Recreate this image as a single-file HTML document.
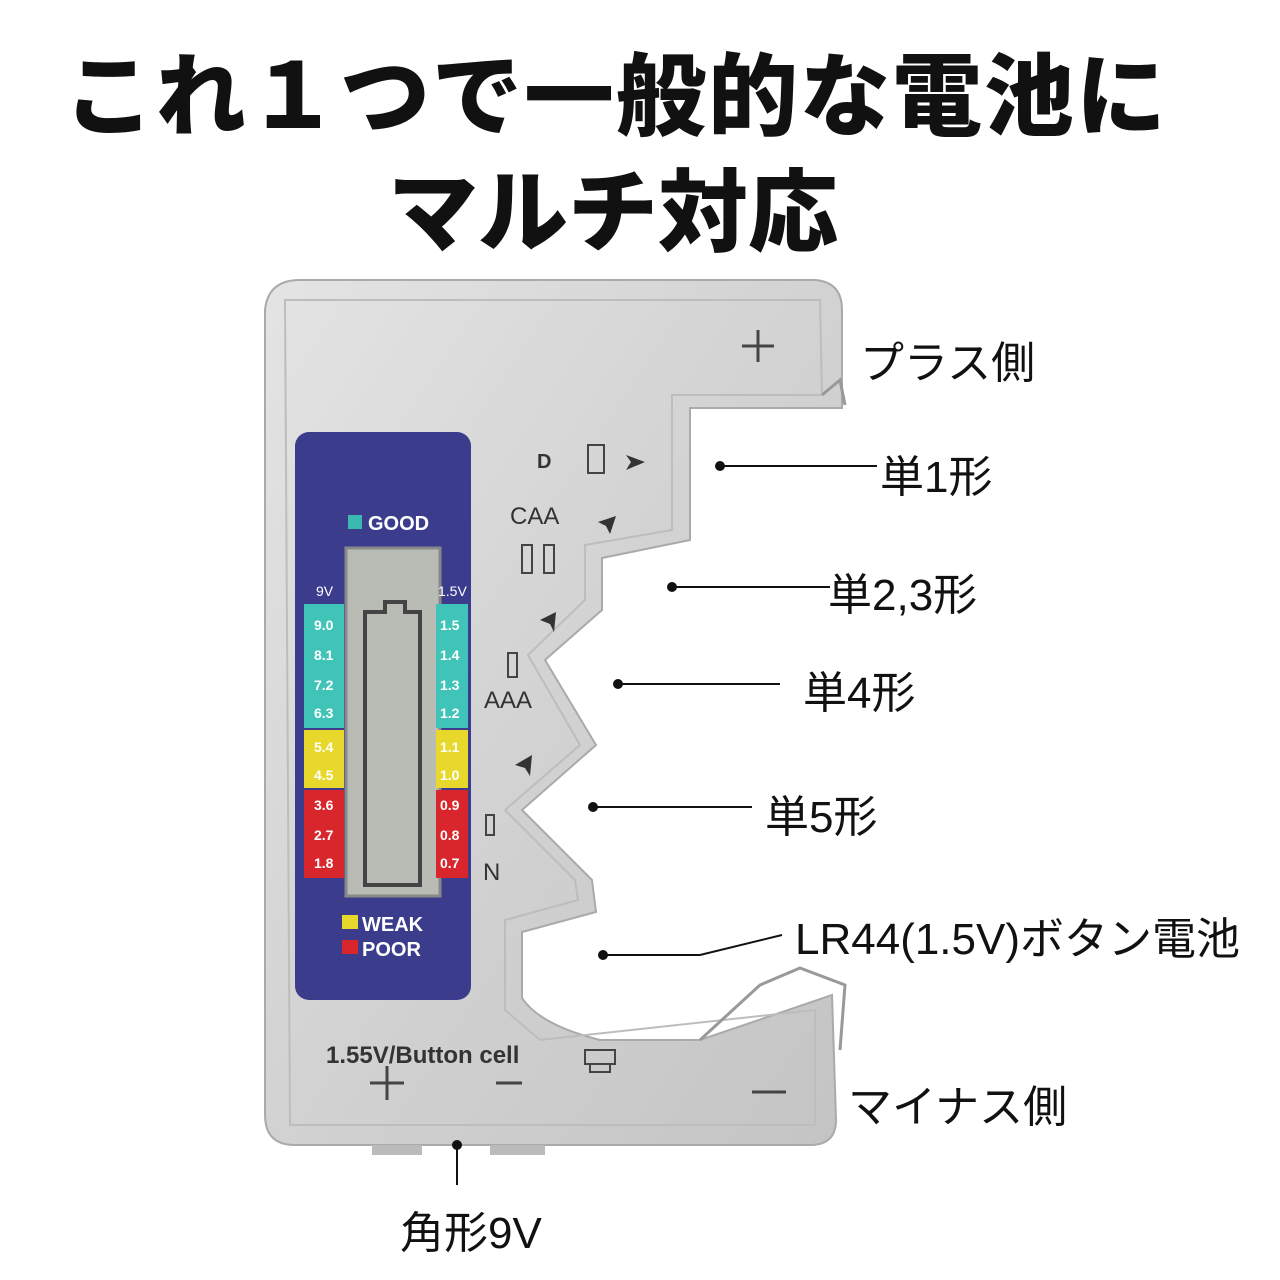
<!DOCTYPE html>
<html><head><meta charset="utf-8">
<style>
html,body{margin:0;padding:0;background:#fff;}
body{width:1280px;height:1280px;position:relative;overflow:hidden;font-family:"Liberation Sans","Noto Sans CJK JP",sans-serif;}
.t{position:absolute;white-space:nowrap;color:#111;}
.l{font-size:44px;}
</style></head><body>
<div class="t" style="left:64px;top:24px;font-size:90px;font-weight:900;letter-spacing:2px;">これ１つで一般的な電池に</div>
<div class="t" style="left:388px;top:140px;font-size:90px;font-weight:900;">マルチ対応</div>

<svg width="1280" height="1280" style="position:absolute;left:0;top:0">
<defs>
<linearGradient id="g" x1="0" y1="0" x2="1" y2="1">
<stop offset="0" stop-color="#e4e4e4"/><stop offset="0.5" stop-color="#d2d2d2"/><stop offset="1" stop-color="#c4c4c4"/>
</linearGradient>
</defs>
<path d="M300 280 L815 280 Q842 282 842 310 L842 408 L690 408 L690 540 L602 558 L602 610 L545 660 L596 745 L522 810 L592 880 L596 912 L522 932 L522 998 Q540 1025 600 1040 L700 1040 L832 995 L836 1120 Q836 1145 810 1145 L295 1145 Q265 1145 265 1115 L265 310 Q268 280 300 280 Z" fill="url(#g)" stroke="#aaa" stroke-width="2"/>
<path d="M285 300 L820 300 L822 395 L672 395 L672 530 L585 545 L585 600 L528 655 L580 745 L505 810 L575 880 L578 900 L505 920 L505 1010 L540 1040 L815 1010 L815 1125 L290 1125 Z" fill="none" stroke="#bdbdbd" stroke-width="2"/>
<path d="M700 1040 L760 985 L800 968 L845 985 L840 1050" fill="none" stroke="#999" stroke-width="3"/>
<path d="M822 395 L840 380 L845 405" fill="none" stroke="#999" stroke-width="3"/>
<rect x="295" y="432" width="176" height="568" rx="14" fill="#3b3c8c"/>
<rect x="346" y="548" width="94" height="348" fill="#b9bcb4" stroke="#888" stroke-width="3"/>
<path d="M365 612 L385 612 L385 602 L405 602 L405 612 L420 612 L420 885 L365 885 Z" fill="none" stroke="#444" stroke-width="4"/>
<rect x="348" y="515" width="14" height="14" fill="#3bb9b0"/>
<text x="368" y="530" font-size="20" font-weight="bold" fill="#fff">GOOD</text>
<text x="316" y="596" font-size="14" fill="#fff">9V</text>
<text x="438" y="596" font-size="14" fill="#fff">1.5V</text>
<g font-size="14" fill="#fff" font-weight="bold">
<rect x="304" y="604" width="40" height="124" fill="#40c4b8"/>
<rect x="436" y="604" width="32" height="124" fill="#40c4b8"/>
<rect x="304" y="730" width="40" height="58" fill="#e8d82c"/>
<rect x="436" y="730" width="32" height="58" fill="#e8d82c"/>
<rect x="304" y="790" width="40" height="88" fill="#d8262c"/>
<rect x="436" y="790" width="32" height="88" fill="#d8262c"/>
<text x="314" y="630">9.0</text><text x="314" y="660">8.1</text><text x="314" y="690">7.2</text><text x="314" y="718">6.3</text>
<text x="314" y="752">5.4</text><text x="314" y="780">4.5</text>
<text x="314" y="810">3.6</text><text x="314" y="840">2.7</text><text x="314" y="868">1.8</text>
<text x="440" y="630">1.5</text><text x="440" y="660">1.4</text><text x="440" y="690">1.3</text><text x="440" y="718">1.2</text>
<text x="440" y="752">1.1</text><text x="440" y="780">1.0</text>
<text x="440" y="810">0.9</text><text x="440" y="840">0.8</text><text x="440" y="868">0.7</text>
</g>
<rect x="342" y="915" width="16" height="14" fill="#e8d82c"/>
<text x="362" y="931" font-size="20" font-weight="bold" fill="#fff">WEAK</text>
<rect x="342" y="940" width="16" height="14" fill="#d8262c"/>
<text x="362" y="956" font-size="20" font-weight="bold" fill="#fff">POOR</text>
<g fill="#333" font-size="24">
<text x="537" y="468" font-weight="bold" font-size="20">D</text>
<text x="510" y="524">CAA</text>
<text x="484" y="708">AAA</text>
<text x="483" y="880">N</text>
<text x="326" y="1063" font-size="24" font-weight="bold">1.55V/Button cell</text>
</g>
<g stroke="#444" stroke-width="2" fill="none">
<rect x="588" y="445" width="16" height="28"/><rect x="522" y="545" width="10" height="28"/><rect x="544" y="545" width="10" height="28"/>
<rect x="508" y="653" width="9" height="24"/><rect x="486" y="815" width="8" height="20"/>
<rect x="585" y="1050" width="30" height="14"/><rect x="590" y="1064" width="20" height="8"/>
<path d="M742 346 H774 M758 330 V362 M370 1083 H404 M387 1066 V1100 M496 1083 H522 M752 1092 H786" stroke-width="3"/>
</g>
<g fill="#333">
<path d="M626 455 L645 462 L626 470 L631 462Z"/>
<path d="M598 522 L616 516 L610 534 L606 526Z"/>
<path d="M540 620 L556 612 L554 632 L550 624Z"/>
<path d="M515 765 L532 755 L530 776 L525 768Z"/>
</g>
<rect x="372" y="1145" width="50" height="10" fill="#bbb"/><rect x="490" y="1145" width="55" height="10" fill="#bbb"/>
<g stroke="#111" stroke-width="2" fill="none">
<line x1="720" y1="466" x2="877" y2="466"/>
<line x1="672" y1="587" x2="830" y2="587"/>
<line x1="618" y1="684" x2="780" y2="684"/>
<line x1="593" y1="807" x2="752" y2="807"/>
<polyline points="603,955 700,955 782,935"/>
<line x1="457" y1="1145" x2="457" y2="1185"/>
</g>
<g fill="#111">
<circle cx="720" cy="466" r="5"/><circle cx="672" cy="587" r="5"/><circle cx="618" cy="684" r="5"/>
<circle cx="593" cy="807" r="5"/><circle cx="603" cy="955" r="5"/><circle cx="457" cy="1145" r="5"/>
</g>
</svg>

<div class="t l" style="left:860px;top:327px;">プラス側</div>
<div class="t l" style="left:880px;top:441px;">単1形</div>
<div class="t l" style="left:828px;top:559px;">単2,3形</div>
<div class="t l" style="left:803px;top:657px;">単4形</div>
<div class="t l" style="left:765px;top:781px;">単5形</div>
<div class="t l" style="left:795px;top:903px;">LR44(1.5V)ボタン電池</div>
<div class="t l" style="left:848px;top:1071px;">マイナス側</div>
<div class="t l" style="left:400px;top:1197px;">角形9V</div>
</body></html>
